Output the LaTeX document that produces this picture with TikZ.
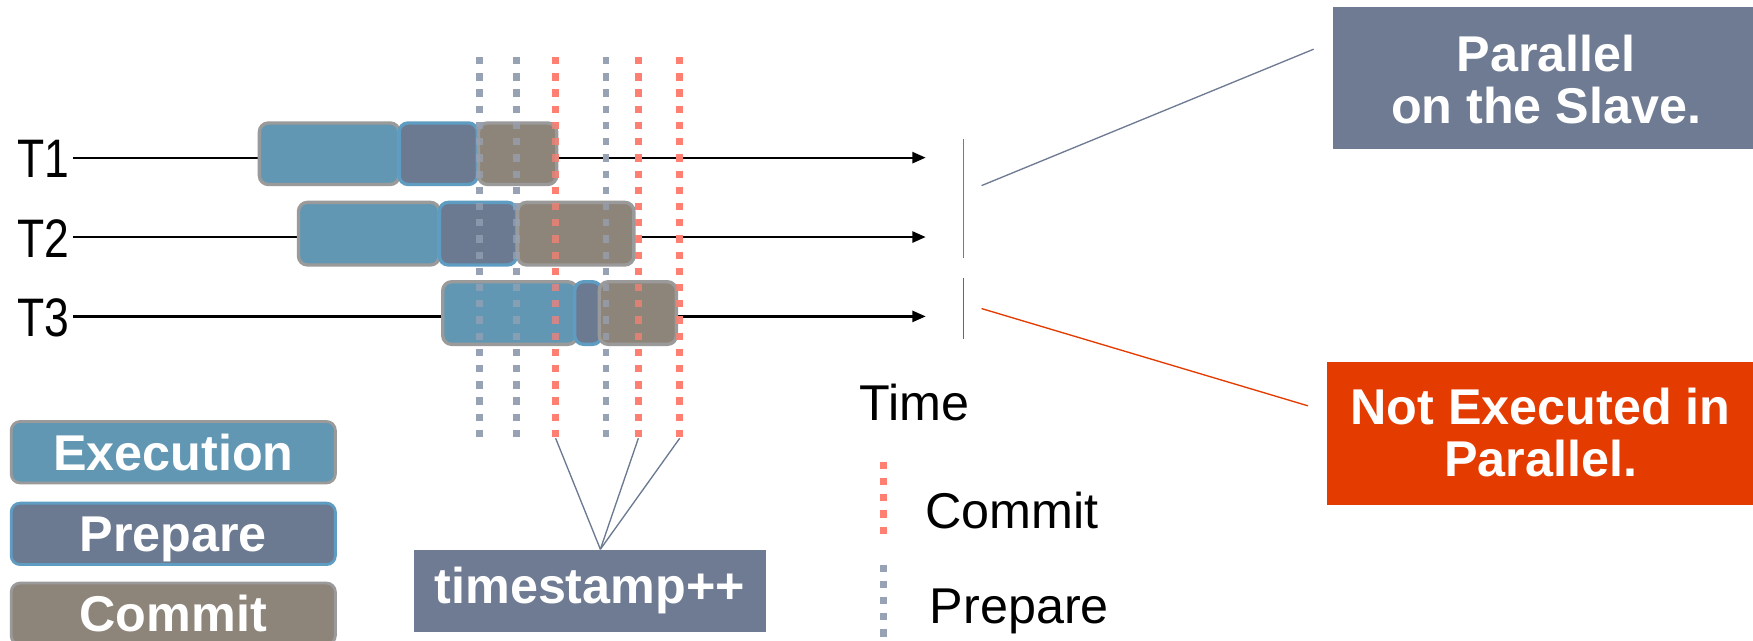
\documentclass[tikz,border=0pt]{standalone}
\usepackage{fontspec}
\setmainfont{Liberation Sans}
\usetikzlibrary{arrows.meta,calc}
\definecolor{execc}{HTML}{6297B3}
\definecolor{prepc}{HTML}{6B7A91}
\definecolor{commc}{HTML}{8E857A}
\definecolor{redd}{HTML}{FF8073}
\definecolor{grayd}{HTML}{98A2B5}
\definecolor{slate}{HTML}{6E7B93}
\definecolor{orng}{HTML}{E33B00}
\definecolor{bordgray}{HTML}{9A9A9A}
\definecolor{bordblue}{HTML}{5E9CC2}
\begin{document}
\begin{tikzpicture}[x=0.1mm,y=-0.1mm,
 bx/.style={rounded corners=0.8mm, line width=0.3mm, inner sep=0},
 exbox/.style={bx, fill=execc, draw=bordgray},
 prbox/.style={bx, fill=prepc, draw=bordblue},
 cmbox/.style={bx, fill=commc, draw=bordgray},
 lgd/.style={rounded corners=0.8mm, line width=0.25mm, inner sep=0, minimum width=29mm, minimum height=5.5mm, text=white, text height=9.2pt, text depth=0pt, font=\fontsize{12.8}{14}\selectfont\bfseries},
 lbl/.style={font=\fontsize{12.8}{15}\selectfont, inner sep=0},
 tlbl/.style={font=\fontsize{13.8}{15}\selectfont, inner sep=0, xscale=0.82},
 wlbl/.style={text=white, font=\fontsize{12.8}{13.4}\selectfont\bfseries, align=center, inner sep=0},
 tl/.style={line width=0.2mm, -{Triangle[length=1.2mm,width=1mm]}},
 rdot/.style={draw=redd, line width=0.6mm, dash pattern=on 0.65mm off 0.8mm},
 gdot/.style={draw=grayd, line width=0.6mm, dash pattern=on 0.65mm off 0.8mm},
 thinline/.style={line width=0.12mm},
]
\useasboundingbox (0,0) rectangle (1568,573);
\clip (0,0) rectangle (1568,573);

% timeline labels and arrows
\node[tlbl, anchor=west] (t1) at (15,142) {T1};
\node[tlbl, anchor=west] (t2) at (15,213) {T2};
\node[tlbl, anchor=west] (t3) at (15,284) {T3};
\coordinate (end1) at (828,141);
\coordinate (end2) at (828,212);
\coordinate (end3) at (828,283);
\draw[tl] ([xshift=0.3mm]t1.east |- end1) -- (end1);
\draw[tl] ([xshift=0.3mm]t2.east |- end2) -- (end2);
\draw[tl] ([xshift=0.3mm]t3.east |- end3) -- (end3);

% dotted time markers (underneath)
\coordinate (d1) at (429,392);
\coordinate (d2) at (462,392);
\coordinate (d3) at (497,392);
\coordinate (d4) at (542,392);
\coordinate (d5) at (571,392);
\coordinate (d6) at (608,392);
\coordinate (u1) at (429,51);
\coordinate (u2) at (462,51);
\coordinate (u3) at (497,51);
\coordinate (u4) at (542,51);
\coordinate (u5) at (571,51);
\coordinate (u6) at (608,51);
\draw[gdot] (u1) -- (d1);
\draw[gdot] (u2) -- (d2);
\draw[rdot] (u3) -- (d3);
\draw[gdot] (u4) -- (d4);
\draw[rdot] (u5) -- (d5);
\draw[rdot] (u6) -- (d6);

% transaction boxes
\node[exbox, minimum width=12.5mm, minimum height=5.5mm] (e1) at (294.5,137.5) {};
\node[prbox, minimum width=7mm, minimum height=5.5mm] (p1) at (392,137.5) {};
\node[cmbox, minimum width=7mm, minimum height=5.5mm] (c1) at (463,137.5) {};
\node[exbox, minimum width=12.6mm, minimum height=5.6mm] (e2) at (330,209) {};
\node[prbox, minimum width=6.9mm, minimum height=5.6mm] (p2) at (427.5,209) {};
\node[cmbox, minimum width=10.4mm, minimum height=5.6mm] (c2) at (515,209) {};
\node[exbox, minimum width=12mm, minimum height=5.6mm] (e3) at (456,280) {};
\node[prbox, minimum width=2.4mm, minimum height=5.6mm] (p3) at (526,280) {};
\node[cmbox, minimum width=6.9mm, minimum height=5.6mm] (c3) at (570.5,280) {};

% dotted markers showing through the boxes
\begin{scope}[draw opacity=0.7]
\draw[gdot] (u1) -- (d1);
\draw[gdot] (u2) -- (d2);
\draw[rdot] (u3) -- (d3);
\draw[gdot] (u4) -- (d4);
\draw[rdot] (u5) -- (d5);
\draw[rdot] (u6) -- (d6);
\end{scope}

% timestamp box
\node[fill=slate, minimum width=31.5mm, minimum height=7.3mm, inner sep=0, text=white, font=\fontsize{12.8}{14}\selectfont\bfseries] (ts) at (527.5,528.5) {timestamp++};
\coordinate (tsin) at ($(ts.north)+(9.5,0)$);
\draw[prepc, thinline] (d3) -- (tsin);
\draw[prepc, thinline] (d5) -- (tsin);
\draw[prepc, thinline] (d6) -- (tsin);

% legend boxes
\node[lgd, fill=execc, draw=bordgray] (le) at (155,404.5) {Execution};
\node[lgd, fill=prepc, draw=bordblue] (lp) at (155,477.5) {Prepare};
\node[lgd, fill=commc, draw=bordgray] (lc) at (155,549) {Commit};

% right side
\coordinate (g1) at (862,124);
\coordinate (g2) at (862,231);
\coordinate (r1) at (862,249);
\coordinate (r2) at (862,303);
\draw[slate, thinline] (g1) -- (g2);
\draw[orng, thinline] (r1) -- (r2);
\node[fill=slate, minimum width=37.6mm, minimum height=12.7mm, inner sep=0] (par) at (1380,69.5) {};
\node[wlbl] (partext) at (1383,71) {Parallel\\on the Slave.};
\node[fill=orng, minimum width=38.1mm, minimum height=12.8mm, inner sep=0] (nep) at (1377.5,388) {};
\node[wlbl] (neptext) at (1378,387) {Not Executed in\\Parallel.};
\coordinate (gs) at (878,166);
\coordinate (ge) at (1175,44);
\coordinate (rs) at (878,276);
\coordinate (re) at (1170,363);
\draw[slate, thinline] (gs) -- (ge);
\draw[orng, thinline] (rs) -- (re);

% time legend
\node[lbl, anchor=west] (time) at (768,360) {Time};
\draw[rdot] (790,413) -- (790,478);
\node[lbl, anchor=west] (lcommit) at (827,457) {Commit};
\draw[gdot] (790,505) -- (790,573);
\node[lbl, anchor=west] (lprep) at (831,547) {Prepare};
\end{tikzpicture}
\end{document}
